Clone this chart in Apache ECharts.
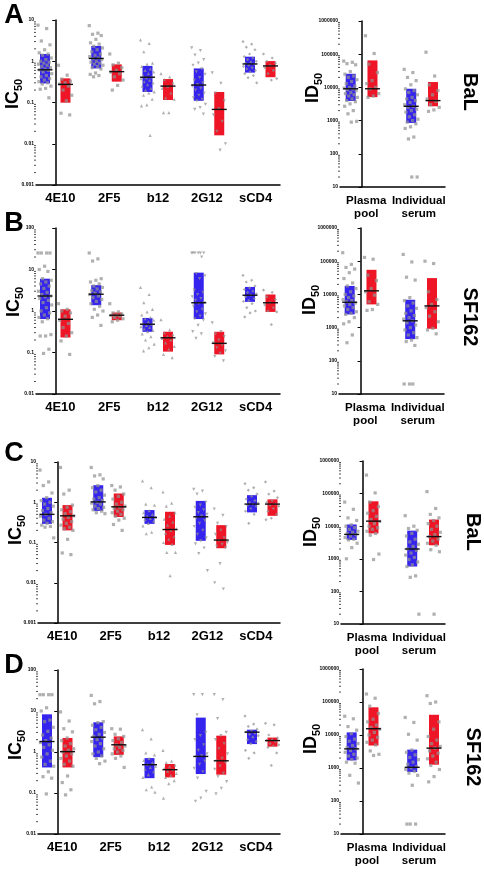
<!DOCTYPE html>
<html><head><meta charset="utf-8">
<script src="https://cdn.jsdelivr.net/npm/echarts@6/dist/echarts.min.js"></script>
<style>html,body{margin:0;padding:0;background:#fff}#c{width:484px;height:872px}</style>
</head><body><div id="c"></div><script>
// ---------------- DATA ----------------
const CATS_IC = ['4E10', '2F5', 'b12', '2G12', 'sCD4'];
const CATS_ID = ['Plasma\npool', 'Individual\nserum'];
const IC_TICKS_A = [0.001, 0.01, 0.1, 1, 10];
const IC_TICKS_B = [0.01, 0.1, 1, 10, 100];
const ID_TICKS = [10, 100, 1000, 10000, 100000, 1000000];

// box stats: [q1, median, q3]
const A_IC_BLUE_BOX = [[0.29,0.62,1.5],[0.67,1.17,2.35],[0.18,0.41,0.77],[0.11,0.265,0.67],[0.53,0.86,1.29]];
const A_IC_RED_BOX  = [[0.099,0.275,0.385],[0.32,0.56,0.84],[0.115,0.25,0.37],[0.016,0.068,0.18],[0.41,0.77,1.01]];
const A_IC_BLUE_PTS = [
 [7.5,6.2,3.1,2.5,1.9,1.6,1.5,1.4,1.2,1.1,1.0,0.95,0.9,0.85,0.8,0.75,0.7,0.65,0.62,0.6,0.55,0.5,0.45,0.42,0.38,0.35,0.32,0.3,0.28,0.25,0.22,0.21,0.13],
 [7.3,4.8,4.5,4.2,3.4,2.8,2.6,2.3,2.1,1.9,1.7,1.5,1.4,1.3,1.2,1.15,1.1,1.0,0.95,0.9,0.85,0.8,0.75,0.7,0.65,0.52,0.48,0.45,0.42],
 [3.3,2.7,1.7,0.9,0.85,0.75,0.65,0.6,0.55,0.5,0.45,0.42,0.4,0.38,0.35,0.32,0.3,0.27,0.25,0.22,0.2,0.18,0.17,0.15,0.12,0.088,0.083,0.016],
 [2.1,1.8,1.4,1.1,0.9,0.8,0.65,0.55,0.48,0.4,0.35,0.3,0.27,0.25,0.22,0.2,0.17,0.15,0.13,0.12,0.11,0.09,0.075,0.068,0.052],
 [3.0,2.6,2.2,1.9,1.5,1.3,1.2,1.1,1.0,0.95,0.9,0.85,0.8,0.75,0.7,0.65,0.6,0.55,0.5,0.45,0.4,0.3]];
const A_IC_RED_PTS = [
 [0.8,0.46,0.37,0.33,0.3,0.28,0.25,0.2,0.15,0.11,0.055,0.05],
 [1.5,0.9,0.82,0.7,0.6,0.55,0.5,0.42,0.35,0.26,0.2],
 [0.5,0.42,0.36,0.3,0.25,0.22,0.17,0.13,0.12,0.057,0.057],
 [0.52,0.29,0.17,0.11,0.07,0.05,0.035,0.02,0.01,0.007],
 [1.5,1.2,1.0,0.9,0.8,0.7,0.6,0.5,0.38,0.35]];
const A_ID_BLUE_BOX = [[3900,9100,25700],[850,2700,9100]];
const A_ID_RED_BOX  = [[5100,9100,65000],[2700,4000,14500]];
const A_ID_BLUE_PTS = [
 [62000,57000,52000,48000,30000,25000,22000,20000,17000,15000,13000,11000,10000,9500,9000,8500,8000,7000,6500,6000,5500,5000,4500,4000,3700,3200,2700,2000,1600,950,900],
 [35000,28000,20000,16000,12000,9000,8000,7000,6000,5000,4500,4000,3500,3000,2700,2500,2200,2000,1800,1500,1300,1100,1000,900,800,650,580,320,280,20,20]];
const A_ID_RED_PTS = [
 [360000,105000,50000,28000,16000,13000,10000,9000,6500,5500,5000],
 [115000,22000,12000,8000,6000,4500,3800,3000,2500,2100,1900]];

const B_IC_BLUE_BOX = [[0.64,2.3,6.0],[1.38,2.54,4.2],[0.315,0.48,0.68],[0.64,1.58,8.4],[1.66,2.4,3.8]];
const B_IC_RED_BOX  = [[0.23,0.63,1.1],[0.6,0.79,0.92],[0.105,0.226,0.316],[0.09,0.166,0.316],[0.95,1.58,2.5]];
const B_IC_BLUE_PTS = [
 [25,25,25,25,12,10,9,6,5.5,5,4.5,4,3.5,3,2.8,2.5,2.3,2.2,2.0,1.8,1.6,1.4,1.2,1.0,0.9,0.8,0.7,0.65,0.55,0.27,0.25,0.25,0.12,0.095],
 [25,18,16,6,5.5,5,4.5,4,3.7,3.4,3.1,2.9,2.7,2.5,2.3,2.1,1.9,1.7,1.5,1.3,1.1,1.0,0.8,0.7,0.45],
 [3.7,2.5,1.6,1.1,0.95,0.8,0.7,0.65,0.6,0.55,0.5,0.48,0.45,0.42,0.4,0.37,0.34,0.32,0.28,0.24,0.2,0.16,0.13,0.11],
 [25,25,25,25,25,25,20,8,7,6,3.2,2.8,2.5,2.2,2.0,1.8,1.6,1.5,1.3,1.1,0.95,0.85,0.75,0.65,0.6,0.45,0.32,0.28,0.22],
 [7.2,5.5,5.0,4.0,3.6,3.3,3.0,2.8,2.6,2.4,2.2,2.0,1.8,1.7,1.5,1.2,1.0,0.9,0.72]];
const B_IC_RED_PTS = [
 [1.5,1.1,1.0,0.9,0.75,0.6,0.5,0.4,0.3,0.25,0.19,0.09],
 [1.5,0.95,0.9,0.85,0.8,0.78,0.75,0.7,0.65,0.6,0.55],
 [0.62,0.35,0.3,0.27,0.24,0.22,0.2,0.17,0.14,0.12,0.09,0.075],
 [0.52,0.32,0.28,0.24,0.2,0.17,0.15,0.13,0.11,0.095,0.08,0.063],
 [3.2,2.8,2.2,1.9,1.6,1.4,1.2,1.0,0.95,0.47]];
const B_ID_BLUE_BOX = [[2500,5800,18000],[450,1600,6900]];
const B_ID_RED_BOX  = [[5000,12800,55000],[920,4500,31000]];
const B_ID_BLUE_PTS = [
 [180000,80000,65000,58000,45000,30000,22000,18000,15000,12000,10000,9000,8000,7000,6500,6000,5500,5000,4500,4000,3500,3000,2700,2500,2000,1500,1300,600,350],
 [160000,95000,33000,27000,8000,6500,5500,4500,3800,3200,2700,2300,2000,1800,1600,1400,1200,1000,850,700,600,500,420,380,290,20,20,20]];
const B_ID_RED_PTS = [
 [130000,115000,38000,26000,15000,12000,9500,6000,5000,3500,3300],
 [100000,85000,12000,7000,5000,4000,3000,2200,1500,950,850,650]];

const C_IC_BLUE_BOX = [[0.29,0.5,1.29],[0.61,1.02,2.65],[0.29,0.42,0.64],[0.11,0.435,1.08],[0.56,0.9,1.5]];
const C_IC_RED_BOX  = [[0.2,0.46,0.85],[0.43,0.77,1.65],[0.087,0.21,0.58],[0.072,0.115,0.27],[0.46,0.9,1.18]];
const C_IC_BLUE_PTS = [
 [6.3,3.2,2.6,1.7,1.3,1.1,1.0,0.9,0.8,0.7,0.62,0.55,0.5,0.45,0.4,0.36,0.33,0.3,0.27,0.25,0.24,0.13],
 [7.3,4.8,4.5,3.8,2.6,2.3,2.0,1.8,1.5,1.3,1.2,1.1,1.0,0.95,0.9,0.8,0.75,0.7,0.65,0.6,0.55,0.52],
 [3.4,2.3,0.9,0.85,0.62,0.55,0.5,0.46,0.43,0.4,0.37,0.34,0.3,0.26,0.18,0.165],
 [2.1,1.9,1.6,1.0,0.85,0.75,0.65,0.55,0.5,0.45,0.4,0.35,0.3,0.25,0.2,0.16,0.13,0.11,0.092,0.073,0.053,0.02],
 [2.9,2.3,2.0,1.6,1.4,1.2,1.1,1.0,0.95,0.9,0.85,0.8,0.7,0.6,0.5,0.3]];
const C_IC_RED_PTS = [
 [7.3,2.0,1.6,0.85,0.75,0.65,0.58,0.52,0.46,0.42,0.38,0.33,0.3,0.27,0.24,0.22,0.2,0.12,0.055,0.05],
 [2.6,2.4,2.0,1.6,1.4,1.2,1.0,0.9,0.8,0.75,0.7,0.65,0.6,0.55,0.5,0.45,0.4,0.36,0.28,0.2],
 [1.8,0.95,0.8,0.55,0.45,0.38,0.32,0.27,0.22,0.2,0.17,0.14,0.12,0.1,0.09,0.057,0.057,0.015],
 [0.68,0.47,0.3,0.25,0.2,0.16,0.13,0.11,0.1,0.09,0.08,0.075,0.03,0.01,0.007],
 [3.2,1.9,1.6,1.3,1.1,1.0,0.9,0.85,0.8,0.7,0.6,0.5,0.4,0.37]];
const C_ID_BLUE_BOX = [[3800,5600,11300],[580,2000,7300]];
const C_ID_RED_BOX  = [[6000,14300,58000],[2600,4800,16000]];
const C_ID_BLUE_PTS = [
 [55000,33000,18000,15000,11000,10000,9000,8000,7000,6500,6000,5500,5000,4500,4000,3800,3000,2200,1000],
 [21000,10000,8500,7500,6000,5000,4000,3300,2800,2400,2000,1800,1500,1300,1100,950,800,650,580,300,270,20]];
const C_ID_RED_PTS = [
 [370000,105000,55000,40000,30000,25000,20000,16000,14000,12000,10000,9000,8000,7000,6000,5300,1400,950],
 [115000,35000,23000,18000,15000,12000,10000,8000,6500,5500,4800,4000,3500,3000,2600,1900,1650,20]];

const D_IC_BLUE_BOX = [[0.42,1.8,8.3],[0.75,2.3,5.3],[0.23,0.49,0.71],[0.29,0.78,6.9],[1.56,3.05,3.5]];
const D_IC_RED_BOX  = [[0.42,1.02,2.2],[0.85,1.5,2.4],[0.24,0.37,0.51],[0.28,0.61,2.5],[1.35,1.9,2.25]];
const D_IC_BLUE_PTS = [
 [25,25,25,25,12,10,6,5.5,4,3.2,2.6,2.2,1.9,1.7,1.5,1.3,1.1,0.9,0.75,0.6,0.5,0.45,0.33,0.25,0.23,0.095],
 [24,17,15,5.5,5.2,4.5,4,3.5,3,2.7,2.4,2.2,2.0,1.8,1.6,1.4,1.2,1.0,0.9,0.8,0.7,0.6,0.52],
 [3.5,2.1,0.95,0.85,0.7,0.62,0.55,0.5,0.45,0.42,0.38,0.33,0.28,0.24,0.14,0.12,0.105],
 [25,25,8,3,2.5,2.0,1.5,1.1,0.9,0.8,0.75,0.6,0.5,0.4,0.33,0.23,0.11,0.075,0.063],
 [7.5,4.8,4.2,3.6,3.3,3.1,2.9,2.7,2.5,2.3,2.0,1.8,1.6,1.1,0.95,0.7]];
const D_IC_RED_PTS = [
 [9.5,5.7,3.7,3.1,2.2,1.9,1.6,1.4,1.2,1.1,1.0,0.9,0.8,0.7,0.6,0.5,0.45,0.26,0.18,0.12,0.09],
 [3.7,3.6,2.7,2.4,2.1,1.9,1.7,1.5,1.4,1.3,1.2,1.1,1.0,0.9,0.8,0.7,0.42],
 [1.1,0.6,0.55,0.48,0.44,0.4,0.37,0.34,0.3,0.27,0.24,0.2,0.17,0.075],
 [25,19,6.5,3,2.5,2.0,1.6,1.2,0.9,0.7,0.6,0.55,0.45,0.38,0.3,0.25,0.19,0.13,0.095],
 [5,4.6,2.6,2.2,2.0,1.9,1.8,1.6,1.5,1.4,1.3,0.95,0.47]];
const D_ID_BLUE_BOX = [[1700,3800,12000],[760,1050,3600]];
const D_ID_RED_BOX  = [[4800,15500,69000],[1260,4000,41000]];
const D_ID_BLUE_PTS = [
 [37000,31000,18000,14000,11000,9000,7500,6500,5500,4800,4200,3800,3400,3000,2600,2300,2000,1800,1500,1400,600,350],
 [34000,24000,10500,7000,3500,3000,2500,2100,1800,1500,1300,1100,1000,900,800,700,600,300,20,20,20]];
const D_ID_RED_PTS = [
 [175000,130000,75000,45000,30000,25000,20000,17000,15000,12000,10000,8500,7000,6000,5000,3300,2600,2400],
 [155000,100000,90000,25000,15000,9000,7000,5500,4500,4000,3300,2800,2300,1900,1500,1200,900,550,380]];

// ---------------- LAYOUT ----------------
const FONT = '"Liberation Sans", Arial, sans-serif';
const BLUE = '#3524ee';
const RED = '#ee1626';
const PT = 'rgba(145,145,145,0.9)';
const IC_SYMBOLS = [['rect',0],['rect',0],['triangle',0],['triangle',180],['diamond',0]];

const ROWS = [
 {letter:'A', virus:'BaL',   L:{x:36,y:20,w:244,h:165,ticks:IC_TICKS_A}, R:{x:340,y:21,w:105,h:166},
  ic:[A_IC_BLUE_BOX,A_IC_RED_BOX,A_IC_BLUE_PTS,A_IC_RED_PTS], id:[A_ID_BLUE_BOX,A_ID_RED_BOX,A_ID_BLUE_PTS,A_ID_RED_PTS],
  letterPos:[14,16], icPos:[13,94], idPos:[313,88], virusPos:[470,92]},
 {letter:'B', virus:'SF162', L:{x:36,y:228,w:244,h:166,ticks:IC_TICKS_B}, R:{x:339,y:228,w:105,h:166},
  ic:[B_IC_BLUE_BOX,B_IC_RED_BOX,B_IC_BLUE_PTS,B_IC_RED_PTS], id:[B_ID_BLUE_BOX,B_ID_RED_BOX,B_ID_BLUE_PTS,B_ID_RED_PTS],
  letterPos:[14,224], icPos:[14,302], idPos:[310,300], virusPos:[470,317]},
 {letter:'C', virus:'BaL',   L:{x:38,y:462,w:242,h:161,ticks:IC_TICKS_A}, R:{x:341,y:461,w:104,h:163},
  ic:[C_IC_BLUE_BOX,C_IC_RED_BOX,C_IC_BLUE_PTS,C_IC_RED_PTS], id:[C_ID_BLUE_BOX,C_ID_RED_BOX,C_ID_BLUE_PTS,C_ID_RED_PTS],
  letterPos:[14,454], icPos:[16,530], idPos:[311,532], virusPos:[473,532]},
 {letter:'D', virus:'SF162', L:{x:38,y:670,w:242,h:164,ticks:IC_TICKS_B}, R:{x:341,y:669,w:104,h:165},
  ic:[D_IC_BLUE_BOX,D_IC_RED_BOX,D_IC_BLUE_PTS,D_IC_RED_PTS], id:[D_ID_BLUE_BOX,D_ID_RED_BOX,D_ID_BLUE_PTS,D_ID_RED_PTS],
  letterPos:[14,666], icPos:[16,745], idPos:[311,739], virusPos:[473,757]}
];

function fmtLog(v){
  const e = Math.round(Math.log10(v));
  return e >= 0 ? String(Math.pow(10, e)) : Math.pow(10, e).toFixed(-e);
}
function minorVals(min, max){
  const out = [];
  for (let e = Math.round(Math.log10(min)); e < Math.round(Math.log10(max)); e++)
    for (let m = 2; m <= 9; m++) out.push(m * Math.pow(10, e));
  return out;
}

const grid = [], xAxis = [], yAxis = [], series = [], graphic = [];

function addPanel(g, cats, stats, pxPerUnit, firstBluePx, off, symbols){
  const gi = grid.length;
  grid.push({left:g.x, top:g.y, width:g.w, height:g.h, containLabel:false});
  const vmin = -off - (firstBluePx) / pxPerUnit;
  const vmax = vmin + g.w / pxPerUnit;
  xAxis.push({type:'category', gridIndex:gi, data:cats, boundaryGap:true,
    axisLine:{lineStyle:{color:'#000', width:1.5}},
    axisTick:{alignWithLabel:true, length:4, lineStyle:{color:'#000', width:1.3}},
    axisLabel:{interval:0, color:'#000', fontFamily:FONT, fontWeight:'bold', fontSize:cats.length > 2 ? 13 : 11.5, lineHeight:13, margin:7},
    splitLine:{show:false}});
  const xv = xAxis.length;
  xAxis.push({type:'value', gridIndex:gi, min:vmin, max:vmax, show:false});
  const ticks = g.ticks;
  const ymin = ticks[0], ymax = ticks[ticks.length-1];
  yAxis.push({type:'log', logBase:10, gridIndex:gi, min:ymin, max:ymax, splitNumber:8,
    axisLine:{show:true, lineStyle:{color:'#000', width:1.5}},
    axisTick:{show:true, length:3, lineStyle:{color:'#000', width:1}},
    axisLabel:{color:'#000', fontFamily:FONT, fontWeight:'bold', fontSize:5, margin:2, formatter:fmtLog},
    splitLine:{show:false}});
  const [bBox, rBox, bPts, rPts] = stats;
  const groups = [[bBox, bPts, -off, BLUE], [rBox, rPts, off, RED]];
  groups.forEach(([box, pts, o, col]) => {
    series.push({type:'custom', xAxisIndex:xv, yAxisIndex:gi, z:2, silent:true, clip:false,
      encode:{x:0, y:[1,2,3]},
      data: box.map((b, i) => [i + o, b[0], b[1], b[2]]),
      renderItem: (p, api) => {
        const x = api.value(0);
        const lo = api.coord([x, api.value(1)]);
        const hi = api.coord([x, api.value(3)]);
        return {type:'rect', shape:{x:lo[0]-5, y:hi[1], width:10, height:lo[1]-hi[1]}, style:{fill:col}};
      }});
    const sdata = [];
    pts.forEach((arr, i) => {
      arr.forEach((v, j) => {
        const jit = (((j * 0.6180339) % 1) - 0.5) * 14 / pxPerUnit;
        const s = symbols[i];
        sdata.push({value:[i + o + jit, v], symbol:s[0], symbolRotate:s[1]});
      });
    });
    series.push({type:'scatter', xAxisIndex:xv, yAxisIndex:gi, z:3, silent:true, symbolSize:3.2,
      itemStyle:{color:PT}, data:sdata});
    series.push({type:'custom', xAxisIndex:xv, yAxisIndex:gi, z:4, silent:true, clip:false,
      encode:{x:0, y:1},
      data: box.map((b, i) => [i + o, b[1]]),
      renderItem: (p, api) => {
        const c = api.coord([api.value(0), api.value(1)]);
        return {type:'line', shape:{x1:c[0]-7.5, y1:c[1], x2:c[0]+7.5, y2:c[1]}, style:{stroke:'#111', lineWidth:1.4}};
      }});
  });
  // log minor ticks on the y axis
  series.push({type:'custom', xAxisIndex:xv, yAxisIndex:gi, z:5, silent:true, clip:false,
    encode:{x:0, y:1},
    data: minorVals(ymin, ymax).map(v => [vmin, v]),
    renderItem: (p, api) => {
      const c = api.coord([api.value(0), api.value(1)]);
      return {type:'line', shape:{x1:c[0]-2, y1:c[1], x2:c[0], y2:c[1]}, style:{stroke:'#000', lineWidth:0.7}};
    }});
}

function sub(main, s, x, y, rot){
  graphic.push({type:'text', x:x, y:y, rotation:rot, silent:true,
    style:{text:'{a|' + main + '}{b|' + s + '}', fill:'#000', align:'center', verticalAlign:'middle',
      rich:{a:{fontFamily:FONT, fontWeight:'bold', fontSize:18, lineHeight:22, verticalAlign:'middle'},
            b:{fontFamily:FONT, fontWeight:'bold', fontSize:11, lineHeight:11, verticalAlign:'bottom'}}}});
}

ROWS.forEach(r => {
  addPanel(r.L, CATS_IC, r.ic, 51.25, 9, 0.2, IC_SYMBOLS);
  addPanel(Object.assign({ticks:ID_TICKS}, r.R), CATS_ID, r.id, 60.5, 10.7, 0.18, [['rect',0],['rect',0]]);
  graphic.push({type:'text', x:r.letterPos[0], y:r.letterPos[1], silent:true,
    style:{text:r.letter, fill:'#000', font:'bold 27px ' + FONT, align:'center', verticalAlign:'middle'}});
  sub('IC', '50', r.icPos[0], r.icPos[1], Math.PI/2);
  sub('ID', '50', r.idPos[0], r.idPos[1], Math.PI/2);
  graphic.push({type:'text', x:r.virusPos[0], y:r.virusPos[1], rotation:-Math.PI/2, silent:true,
    style:{text:r.virus, fill:'#000', font:'bold 20px ' + FONT, align:'center', verticalAlign:'middle'}});
});

const chart = echarts.init(document.getElementById('c'), null, {renderer:'canvas'});
chart.setOption({animation:false, backgroundColor:'#fff', grid, xAxis, yAxis, series, graphic});
</script></body></html>
